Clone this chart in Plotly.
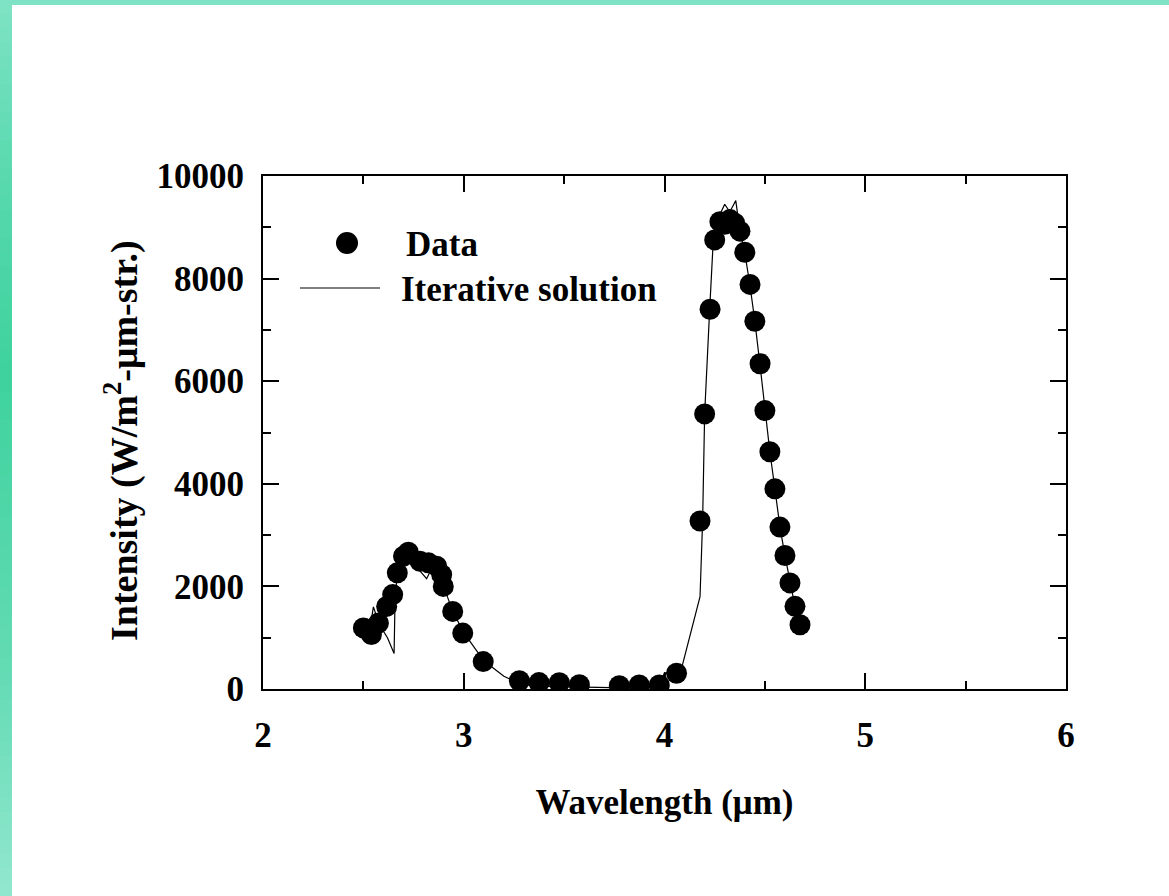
import plotly.graph_objects as go

# ---------------- data ----------------
data_wavelength = [2.50, 2.54, 2.575, 2.616, 2.646, 2.669, 2.70, 2.724, 2.782, 2.824,
                   2.865, 2.89, 2.898, 2.945, 2.995, 3.097, 3.277, 3.375, 3.476, 3.576,
                   3.775, 3.874, 3.974, 4.06, 4.177, 4.20, 4.227, 4.25, 4.276, 4.30,
                   4.326, 4.35, 4.376, 4.40, 4.426, 4.45, 4.476, 4.50, 4.525, 4.55,
                   4.575, 4.60, 4.625, 4.65, 4.675]
data_intensity = [1190, 1060, 1285, 1610, 1840, 2265, 2590, 2665, 2490, 2460,
                  2395, 2230, 2000, 1513, 1090, 534, 160, 125, 123, 85,
                  65, 78, 78, 307, 3274, 5362, 7403, 8754, 9110, 9060,
                  9150, 9080, 8924, 8513, 7886, 7168, 6341, 5427, 4625, 3902,
                  3157, 2603, 2068, 1611, 1252]

fit_wavelength = [2.50, 2.53, 2.55, 2.58, 2.62, 2.653, 2.658, 2.67, 2.70, 2.725,
                  2.76, 2.815, 2.84, 2.87, 2.90, 2.945, 3.00, 3.10, 3.20, 3.28,
                  3.40, 3.60, 3.80, 3.97, 4.00, 4.077, 4.177, 4.19, 4.20, 4.225,
                  4.245, 4.27, 4.30, 4.325, 4.355, 4.375, 4.40, 4.425, 4.45, 4.475,
                  4.50, 4.525, 4.55, 4.575, 4.60, 4.625, 4.65, 4.675]
fit_intensity = [1190, 1120, 1600, 1250, 1000, 690, 1800, 2260, 2590, 2660,
                 2400, 2150, 2350, 2380, 2000, 1513, 1100, 550, 250, 100,
                 50, 30, 20, 30, 320, 280, 1800, 3300, 5360, 7400,
                 8900, 9200, 9450, 9300, 9520, 8950, 8500, 7890, 7170, 6340,
                 5430, 4620, 3900, 3160, 2600, 2070, 1610, 1250]

x_ticks = [2, 3, 4, 5, 6]
y_ticks = [0, 2000, 4000, 6000, 8000, 10000]

# ---------------- layout geometry ----------------
W, H = 1169, 896
L, R, T, B = 263, 103, 176, 207
PW, PH = W - L - R, H - T - B


def px(x):
    return (x - L) / PW


def py(y):
    return (H - B - y) / PH


FONT = dict(family="Liberation Serif, Times New Roman, serif", color="black", size=35, weight="bold")
YTITLE_FONT = dict(FONT, size=38)

fig = go.Figure()
fig.add_trace(go.Scatter(x=fit_wavelength, y=fit_intensity, mode="lines",
                         line=dict(color="black", width=1.2), name="Iterative solution",
                         showlegend=False))
fig.add_trace(go.Scatter(x=data_wavelength, y=data_intensity, mode="markers",
                         marker=dict(color="black", size=21, line=dict(width=0)), name="Data",
                         showlegend=False))

axis_common = dict(showgrid=False, zeroline=False, showline=True, linecolor="black", linewidth=2,
                   mirror="ticks", ticks="inside", ticklen=16, tickwidth=2, tickcolor="black",
                   tickfont=FONT)

fig.update_xaxes(range=[2, 6], tickvals=x_ticks, ticktext=[str(v) for v in x_ticks],
                 minor=dict(dtick=0.5, ticks="inside", ticklen=8, tickwidth=2, tickcolor="black"),
                 ticklabelstandoff=14,
                 title=dict(text="Wavelength (μm)", font=FONT, standoff=35),
                 **axis_common)
fig.update_yaxes(range=[0, 10000], tickvals=y_ticks, ticktext=[str(v) for v in y_ticks],
                 minor=dict(dtick=1000, ticks="inside", ticklen=8, tickwidth=2, tickcolor="black"),
                 ticklabelstandoff=10,
                 **axis_common)

shapes = []
# decorative gradient strips (left and top)
stops = [(0.0, (126, 227, 196)), (0.22, (85, 216, 172)), (0.42, (62, 210, 158)),
         (0.75, (100, 219, 180)), (1.0, (146, 231, 206))]


def col(t):
    for (t0, c0), (t1, c1) in zip(stops[:-1], stops[1:]):
        if t0 <= t <= t1:
            f = (t - t0) / (t1 - t0)
            return "rgb(%d,%d,%d)" % tuple(round(a + (b - a) * f) for a, b in zip(c0, c1))
    return "rgb(%d,%d,%d)" % stops[-1][1]


N = 64
for i in range(N):
    y0 = H * i / N
    y1 = H * (i + 1) / N + 0.5
    shapes.append(dict(type="rect", xref="paper", yref="paper", layer="below",
                       x0=px(0), x1=px(12), y0=py(y1), y1=py(y0),
                       fillcolor=col((i + 0.5) / N), line=dict(width=0)))
shapes.append(dict(type="rect", xref="paper", yref="paper", layer="below",
                   x0=px(0), x1=px(W), y0=py(5), y1=py(0),
                   fillcolor="rgb(126,227,196)", line=dict(width=0)))

# custom legend
shapes.append(dict(type="circle", xref="paper", yref="paper", xsizemode="pixel", ysizemode="pixel",
                   xanchor=px(347), yanchor=py(243), x0=-11, x1=11, y0=-11, y1=11,
                   fillcolor="black", line=dict(width=0)))
shapes.append(dict(type="line", xref="paper", yref="paper",
                   x0=px(300), x1=px(380), y0=py(288), y1=py(288),
                   line=dict(color="black", width=1.2)))

annotations = [
    dict(text="Data", xref="paper", yref="paper", x=px(404), y=py(244), xanchor="left",
         yanchor="middle", showarrow=False, font=FONT),
    dict(text="Iterative solution", xref="paper", yref="paper", x=px(399), y=py(289),
         xanchor="left", yanchor="middle", showarrow=False, font=FONT),
    dict(text="Intensity (W/m<sup>2</sup>-μm-str.)", xref="paper", yref="paper",
         x=px(121), y=py(441), xanchor="center", yanchor="middle", textangle=-90,
         showarrow=False, font=YTITLE_FONT),
]

fig.update_layout(width=W, height=H, margin=dict(l=L, r=R, t=T, b=B, autoexpand=False),
                  paper_bgcolor="white", plot_bgcolor="white", showlegend=False,
                  shapes=shapes, annotations=annotations)

fig.write_html("out.html")
